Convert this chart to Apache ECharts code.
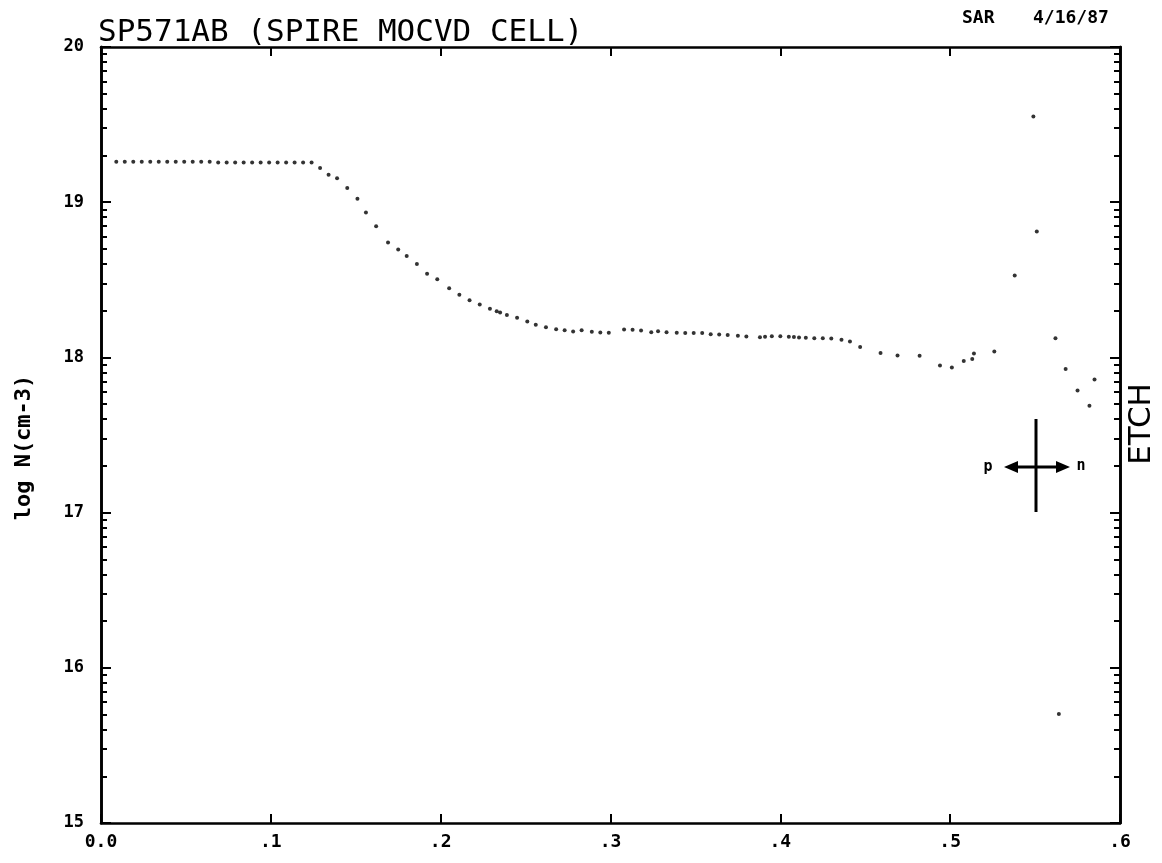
<!DOCTYPE html>
<html>
<head>
<meta charset="utf-8">
<script src="https://cdn.jsdelivr.net/npm/echarts@6/dist/echarts.min.js"></script>
<style>
html,body{margin:0;padding:0;background:#fff;}
#chart{width:1162px;height:863px;}
</style>
</head>
<body>
<div id="chart"></div>
<script>
// ---- data (depth in um, log10 of carrier concentration) ----
var depthUm = [
  0.009, 0.014, 0.019, 0.024, 0.029, 0.034, 0.039, 0.044, 0.049, 0.054, 0.059, 0.064,
  0.069, 0.074, 0.079, 0.084, 0.089, 0.094, 0.099, 0.104, 0.109, 0.114, 0.119, 0.124,
  0.129, 0.134, 0.139, 0.145, 0.151, 0.156, 0.162, 0.169, 0.175, 0.180, 0.186, 0.192,
  0.198, 0.205, 0.211, 0.217, 0.223, 0.229, 0.233, 0.235, 0.239, 0.245, 0.251, 0.256,
  0.262, 0.268, 0.273, 0.278, 0.283, 0.289, 0.294, 0.299, 0.308, 0.313, 0.318, 0.324,
  0.328, 0.333, 0.339, 0.344, 0.349, 0.354, 0.359, 0.364, 0.369, 0.375, 0.380,
  0.388, 0.391, 0.395, 0.400, 0.405, 0.408, 0.411, 0.415, 0.420, 0.425, 0.430, 0.436,
  0.441, 0.447, 0.459, 0.469, 0.482, 0.494, 0.501, 0.508, 0.513, 0.514, 0.526, 0.538,
  0.549, 0.551, 0.562, 0.568, 0.575, 0.582, 0.585, 0.564
];
var logN = [
  19.26, 19.26, 19.26, 19.26, 19.26, 19.26, 19.26, 19.26, 19.26, 19.26, 19.26, 19.26,
  19.255, 19.255, 19.255, 19.255, 19.255, 19.255, 19.255, 19.255, 19.255, 19.255, 19.255, 19.255,
  19.221, 19.177, 19.154, 19.091, 19.023, 18.934, 18.845, 18.741, 18.695, 18.653, 18.602, 18.539,
  18.503, 18.446, 18.404, 18.368, 18.341, 18.314, 18.297, 18.290, 18.274, 18.256, 18.231, 18.210,
  18.194, 18.182, 18.175, 18.167, 18.175, 18.165, 18.160, 18.159, 18.179, 18.178, 18.174, 18.162,
  18.168, 18.162, 18.159, 18.158, 18.157, 18.158, 18.149, 18.148, 18.144, 18.139, 18.134,
  18.130, 18.133, 18.137, 18.136, 18.133, 18.132, 18.129, 18.127, 18.124, 18.123, 18.121, 18.114,
  18.102, 18.067, 18.029, 18.013, 18.010, 17.948, 17.935, 17.977, 17.989, 18.025, 18.038, 18.528,
  19.552, 18.811, 18.124, 17.926, 17.787, 17.689, 17.858, 15.702
];
var xTickLabels = ['0.0', '.1', '.2', '.3', '.4', '.5', '.6'];
var yMajorTicks = [15, 16, 17, 18, 19, 20];
var yMinorMultipliers = [2, 3, 4, 5, 6, 7, 8, 9];
var titleText = 'SP571AB (SPIRE MOCVD CELL)';
var yAxisName = 'log N(cm-3)';
var operatorText = 'SAR';
var dateText = '4/16/87';
var sideText = 'ETCH';

// ---- build ----
var minorTicks = [];
for (var d = 15; d < 20; d++) {
  yMinorMultipliers.forEach(function (k) { minorTicks.push(d + Math.log10(k)); });
}
var points = depthUm.map(function (x, i) { return [x, logN[i]]; });

var mono = "'DejaVu Sans Mono', monospace";
var axisLineStyle = { color: '#000', width: 2.6 };

function yAx(pos, ticks, len, labels) {
  var ax = {
    type: 'value', position: pos, min: 15, max: 20, interval: 1,
    axisLine: { show: true, lineStyle: axisLineStyle },
    axisTick: { show: true, inside: true, length: len, lineStyle: { color: '#000', width: 2 }, customValues: ticks },
    axisLabel: { show: false },
    splitLine: { show: false }
  };
  if (labels) {
    ax.axisLabel = { show: true, color: '#000', fontFamily: mono, fontWeight: 'bold', fontSize: 17, margin: 17 };
    ax.name = yAxisName;
    ax.nameLocation = 'middle';
    ax.nameRotate = 90;
    ax.nameGap = 66;
    ax.nameTextStyle = { color: '#000', fontFamily: mono, fontWeight: 'bold', fontSize: 22, padding: [0, 25, 0, 0] };
  }
  return ax;
}

var chart = echarts.init(document.getElementById('chart'), null, { renderer: 'canvas' });
chart.setOption({
  backgroundColor: '#fff',
  animation: false,
  title: {
    text: titleText, left: 93, top: 12,
    textStyle: { fontFamily: mono, fontSize: 31, fontWeight: 'normal', color: '#000' }
  },
  grid: { left: 101, right: 42, top: 47, bottom: 40 },
  xAxis: [
    {
      type: 'value', position: 'bottom', min: 0, max: 0.6, interval: 0.1,
      axisLine: { show: true, lineStyle: axisLineStyle },
      axisTick: { show: true, inside: true, length: 9, lineStyle: { color: '#000', width: 2 } },
      axisLabel: {
        color: '#000', fontFamily: mono, fontWeight: 'bold', fontSize: 18, margin: 10,
        formatter: function (v) { return xTickLabels[Math.round(v * 10)]; }
      },
      splitLine: { show: false }
    },
    {
      type: 'value', position: 'top', min: 0, max: 0.6, interval: 0.1,
      axisLine: { show: true, lineStyle: axisLineStyle },
      axisTick: { show: true, inside: true, length: 9, lineStyle: { color: '#000', width: 2 } },
      axisLabel: { show: false },
      splitLine: { show: false }
    }
  ],
  yAxis: [
    yAx('left', yMajorTicks, 10, true),
    yAx('left', minorTicks, 6, false),
    yAx('right', yMajorTicks, 10, false),
    yAx('right', minorTicks, 6, false)
  ],
  series: [{
    type: 'scatter', xAxisIndex: 0, yAxisIndex: 0,
    data: points, symbol: 'circle', symbolSize: 4,
    itemStyle: { color: '#000' }
  }],
  graphic: [
    { type: 'text', x: 962, y: 9, style: { text: operatorText, font: 'bold 18px ' + mono, fill: '#000' } },
    { type: 'text', x: 1033, y: 9, style: { text: dateText, font: 'bold 18px ' + mono, fill: '#000' } },
    { type: 'text', x: 1142, y: 424, rotation: Math.PI / 2,
      style: { text: sideText, font: "31px 'DejaVu Sans', sans-serif", fill: '#000', align: 'center', verticalAlign: 'middle' } },
    // p <-+-> n polarity symbol
    { type: 'line', shape: { x1: 1036, y1: 419, x2: 1036, y2: 512 }, style: { stroke: '#000', lineWidth: 3 } },
    { type: 'line', shape: { x1: 1012, y1: 467, x2: 1062, y2: 467 }, style: { stroke: '#000', lineWidth: 3 } },
    { type: 'polygon', shape: { points: [[1004, 467], [1018, 461], [1018, 473]] }, style: { fill: '#000' } },
    { type: 'polygon', shape: { points: [[1070, 467], [1056, 461], [1056, 473]] }, style: { fill: '#000' } },
    { type: 'text', x: 988, y: 467, style: { text: 'p', font: 'bold 15px ' + mono, fill: '#000', align: 'center', verticalAlign: 'middle' } },
    { type: 'text', x: 1081, y: 466, style: { text: 'n', font: 'bold 15px ' + mono, fill: '#000', align: 'center', verticalAlign: 'middle' } }
  ]
});
</script>
</body>
</html>
